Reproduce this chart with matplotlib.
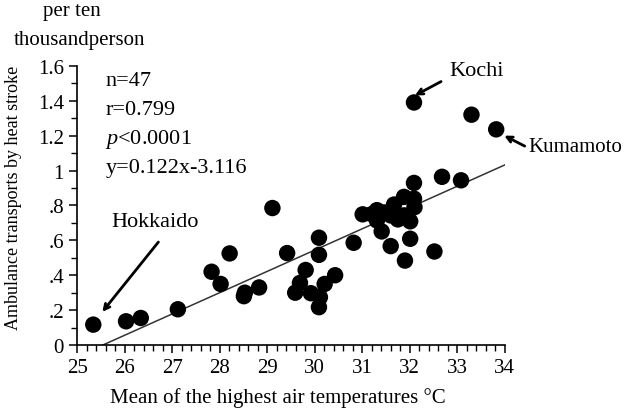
import matplotlib.pyplot as plt
from matplotlib.ticker import MultipleLocator, FixedLocator
import numpy as np

plt.rcParams["font.family"] = ["Liberation Serif", "DejaVu Serif"]
plt.rcParams["mathtext.fontset"] = "custom"
plt.rcParams["mathtext.it"] = "Liberation Serif:italic"
plt.rcParams["mathtext.rm"] = "Liberation Serif"

# mean of highest air temperature (deg C) and ambulance transports per 10,000
temps = [25.34, 26.03, 26.34, 27.12, 27.83, 28.02, 28.21, 28.51, 28.53, 28.83,
         29.11, 29.42, 29.59, 29.69, 29.81, 29.92, 30.09, 30.09, 30.11, 30.09,
         30.21, 30.43, 30.82, 31.01, 31.31, 31.31, 31.41, 31.60, 31.60, 31.67,
         31.88, 31.88, 32.01, 31.90, 32.09, 32.01, 32.09, 32.52, 32.68, 33.08,
         32.09, 33.30, 33.82, 31.45, 31.75, 32.10, 31.20]
rates = [0.117, 0.136, 0.155, 0.205, 0.42, 0.35, 0.525, 0.28, 0.30, 0.33,
         0.785, 0.527, 0.30, 0.356, 0.43, 0.297, 0.615, 0.517, 0.274, 0.217,
         0.35, 0.40, 0.586, 0.749, 0.773, 0.714, 0.651, 0.567, 0.743, 0.805,
         0.849, 0.743, 0.609, 0.484, 0.839, 0.709, 0.929, 0.536, 0.964, 0.944,
         1.39, 1.32, 1.236, 0.76, 0.72, 0.79, 0.75]

slope, intercept = 0.122, -3.116
ytick_vals = [0, 0.2, 0.4, 0.6, 0.8, 1.0, 1.2, 1.4, 1.6]
ytick_labels = ["0", ".2", ".4", ".6", ".8", "1", "1.2", "1.4", "1.6"]
stats_lines = ["n=47", "r=0.799", r"$p$<0.0001", "y=0.122x-3.116"]

fig = plt.figure(figsize=(6.27, 4.10), dpi=100)
ax = fig.add_axes([0.123, 0.156, 0.682, 0.681])

ax.scatter(temps, rates, s=140, color="black", zorder=3, clip_on=False,
           edgecolors="none")

x0 = -intercept / slope
xs = np.array([x0, 34.0])
ax.plot(xs, slope * xs + intercept, color="#333333", linewidth=1.1, zorder=2)

ax.set_xlim(25, 34)
ax.set_ylim(0, 1.6)
ax.spines["top"].set_visible(False)
ax.spines["right"].set_visible(False)
ax.spines["left"].set_linewidth(1.2)
ax.spines["bottom"].set_linewidth(1.2)

ax.xaxis.set_major_locator(MultipleLocator(1))
ax.xaxis.set_minor_locator(MultipleLocator(0.2))
ax.yaxis.set_major_locator(FixedLocator(ytick_vals))
ax.set_yticklabels(ytick_labels)
ax.yaxis.set_minor_locator(MultipleLocator(0.1))
ax.tick_params(which="major", length=6, width=1.1, labelsize=15)
ax.tick_params(which="minor", length=4, width=1.0)

ax.set_xlabel("Mean of the highest air temperatures \u00b0C", fontsize=15)
ax.xaxis.set_label_coords(0.47, -0.15)
ax.set_ylabel("Ambulance transports by heat stroke", fontsize=13)
ax.yaxis.set_label_coords(-0.13, 0.53)

fig.text(0.115, 0.971, "per ten", ha="center", va="center", fontsize=15)
fig.text(0.126, 0.902, "thousandperson", ha="center", va="center",
         fontsize=15)

for i, line in enumerate(stats_lines):
    fig.text(0.168, 0.80 - i * 0.07, line, ha="left", va="center", fontsize=16)

arrow = dict(arrowstyle="->", color="black", lw=2.0, shrinkA=0, shrinkB=0)
ax.text(32.83, 1.575, "Kochi", fontsize=16, va="center", ha="left")
ax.annotate("", xy=(32.11, 1.43), xytext=(32.66, 1.51), arrowprops=arrow)
ax.text(34.5, 1.14, "Kumamoto", fontsize=15, va="center", ha="left",
        clip_on=False)
ax.annotate("", xy=(33.99, 1.20), xytext=(34.42, 1.14), arrowprops=arrow,
            annotation_clip=False)
ax.text(26.65, 0.71, "Hokkaido", fontsize=16, va="center", ha="center")
ax.annotate("", xy=(25.53, 0.19), xytext=(26.71, 0.59), arrowprops=arrow)

fig.savefig("out.png", dpi=100)
